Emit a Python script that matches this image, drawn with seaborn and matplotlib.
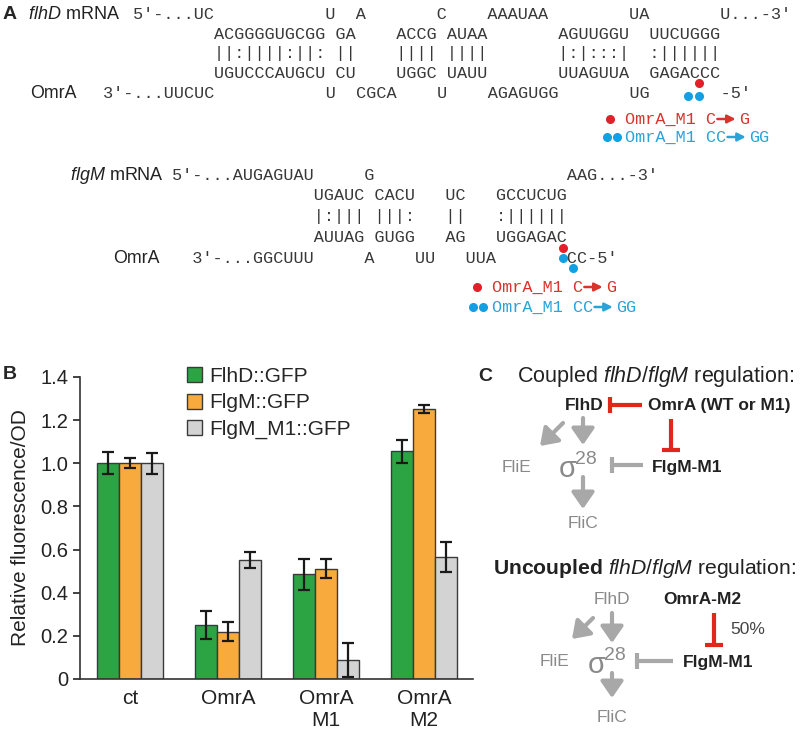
import numpy as np
import pandas as pd
import matplotlib.pyplot as plt
import seaborn as sns
from matplotlib.patches import Patch, ArrowStyle

# --- Panel B data ---
conditions = ['ct', 'OmrA', 'OmrA\nM1', 'OmrA\nM2']
reporters = ['FlhD::GFP', 'FlgM::GFP', 'FlgM_M1::GFP']
flhd_vals = [1.00, 0.25, 0.485, 1.055]
flhd_err = [0.051, 0.063, 0.072, 0.053]
flgm_vals = [1.00, 0.218, 0.51, 1.25]
flgm_err = [0.023, 0.044, 0.044, 0.018]
flgm_m1_vals = [1.00, 0.551, 0.088, 0.565]
flgm_m1_err = [0.048, 0.037, 0.079, 0.07]
bar_colors = ['#2ca444', '#f8aa3c', '#d3d3d3']
y_ticks = [0, 0.2, 0.4, 0.6, 0.8, 1.0, 1.2, 1.4]
y_tick_labels = ['0', '0.2', '0.4', '0.6', '0.8', '1.0', '1.2', '1.4']

# --- Panel A sequences (monospace rows) ---
flhd_rows = [
    "5'-...UC           U  A       C    AAAUAA        UA       U...-3'",
    "        ACGGGGUGCGG GA    ACCG AUAA       AGUUGGU  UUCUGGG",
    "        ||:||||:||: ||    |||| ||||       |:|:::|  :||||||",
    "        UGUCCCAUGCU CU    UGGC UAUU       UUAGUUA  GAGACCC",
    "3'-...UUCUC           U  CGCA    U    AGAGUGG       UG       -5'",
]
flgm_rows = [
    "5'-...AUGAGUAU     G                   AAG...-3'",
    "              UGAUC CACU   UC   GCCUCUG",
    "              |:||| |||:   ||   :||||||",
    "              AUUAG GUGG   AG   UGGAGAC",
    "  3'-...GGCUUU     A    UU   UUA       CC-5'",
]

sns.set_style('ticks')
plt.rcParams['font.family'] = ['Liberation Sans', 'DejaVu Sans']
plt.rcParams['mathtext.fontset'] = 'custom'
plt.rcParams['mathtext.rm'] = 'Liberation Sans'
plt.rcParams['mathtext.it'] = 'Liberation Sans:italic'
plt.rcParams['mathtext.bf'] = 'Liberation Sans:bold'

fig = plt.figure(figsize=(8, 7.35), dpi=100)

# overlay in pixel coordinates for panels A and C
ov = fig.add_axes([0, 0, 1, 1])
ov.set_xlim(0, 800)
ov.set_ylim(735, 0)
ov.axis('off')

MONO = 'Liberation Mono'
CW = 10.15
MONO_FS = CW / 0.6 * 72 / 100
SEQ_COL = '#383838'
RED_T = '#d9342c'
BLUE_T = '#2aa3d8'
RED_D = '#e3202a'
BLUE_D = '#12a0e3'

# ---------------- Panel A ----------------
ov.text(3, 14, 'A', fontsize=14, fontweight='bold', va='center')
ov.text(28, 14, r'$\it{flhD}$ mRNA', fontsize=13, va='center', color='#222')
ov.text(30, 93, 'OmrA', fontsize=12.8, va='center', color='#222')
flhd_y = [14, 34, 53, 73, 93]
for i, (row, y) in enumerate(zip(flhd_rows, flhd_y)):
    x0 = 133 - 3 * CW if i == 4 else 133
    ov.text(x0, y, row, family=MONO, fontsize=MONO_FS, color=SEQ_COL, va='center')

ov.plot([699], [83], 'o', color=RED_D, ms=5.5)
ov.plot([688, 699], [96, 96], 'o', color=BLUE_D, ms=5.5)


def legend_line(xd, y, dots, color, dcolor, pre, post):
    ov.plot(dots, [y] * len(dots), 'o', color=dcolor, ms=5.5)
    ov.text(xd, y, pre, family=MONO, fontsize=MONO_FS, color=color, va='center')
    xs = xd + len(pre) * CW + 1
    ov.annotate('', xy=(xs + 2 * CW - 2, y), xytext=(xs, y),
                arrowprops=dict(arrowstyle='-|>', color=color, lw=1.8,
                                mutation_scale=12, shrinkA=0, shrinkB=0))
    ov.text(xs + 2 * CW + 1, y, post, family=MONO, fontsize=MONO_FS, color=color, va='center')


legend_line(625, 119, [610], RED_T, RED_D, 'OmrA_M1 C', 'G')
legend_line(625, 137, [607, 617], BLUE_T, BLUE_D, 'OmrA_M1 CC', 'GG')

ov.text(70, 175, r'$\it{flgM}$ mRNA', fontsize=13, va='center', color='#222')
ov.text(113, 258, 'OmrA', fontsize=12.8, va='center', color='#222')
flgm_y = [175, 195, 216, 237, 258]
for row, y in zip(flgm_rows, flgm_y):
    ov.text(172, y, row, family=MONO, fontsize=MONO_FS, color=SEQ_COL, va='center')
ov.plot([563], [248], 'o', color=RED_D, ms=5.5)
ov.plot([563, 573], [258, 268], 'o', color=BLUE_D, ms=5.5)
legend_line(492, 287, [477], RED_T, RED_D, 'OmrA_M1 C', 'G')
legend_line(492, 307, [473, 483], BLUE_T, BLUE_D, 'OmrA_M1 CC', 'GG')

# ---------------- Panel B ----------------
ax = fig.add_axes([0.1, 0.0762, 0.491, 0.411])
df = pd.DataFrame({
    'Condition': conditions * 3,
    'Reporter': np.repeat(reporters, len(conditions)),
    'Value': flhd_vals + flgm_vals + flgm_m1_vals,
})
sns.barplot(data=df, x='Condition', y='Value', hue='Reporter', hue_order=reporters,
            palette=bar_colors, width=0.67, errorbar=None, edgecolor='#3a3a3a',
            linewidth=1, saturation=1, legend=False, ax=ax)

for container, errs in zip(ax.containers, [flhd_err, flgm_err, flgm_m1_err]):
    xs = [b.get_x() + b.get_width() / 2 for b in container]
    ys = [b.get_height() for b in container]
    ax.errorbar(xs, ys, yerr=errs, fmt='none', ecolor='#1a1a1a', elinewidth=1.6,
                capsize=4.3, capthick=1.6)

ax.set_xlim(-0.51, 3.5)
ax.set_ylim(0, 1.4)
ax.set_yticks(y_ticks)
ax.set_yticklabels(y_tick_labels)
ax.set_xlabel('')
ax.set_ylabel('Relative fluorescence/OD', fontsize=15, color='#222', labelpad=7)
ax.tick_params(axis='y', labelsize=14.5, length=5, width=1.2, colors='#222')
ax.tick_params(axis='x', labelsize=15, length=0, pad=7, colors='#222')
for s in ['top', 'right']:
    ax.spines[s].set_visible(False)
for s in ['left', 'bottom']:
    ax.spines[s].set_linewidth(1.2)
    ax.spines[s].set_color('#333')

handles = [Patch(facecolor=c, edgecolor='#3a3a3a', linewidth=1) for c in bar_colors]
ax.legend(handles, reporters, loc='upper left', bbox_to_anchor=(0.25, 1.06), frameon=False,
          fontsize=15, handlelength=0.72, handleheight=0.72, handletextpad=0.35,
          labelspacing=0.35, borderaxespad=0)

ov.text(3, 374, 'B', fontsize=14, fontweight='bold', va='center')

# ---------------- Panel C ----------------
GRAY_A = '#a8a8a8'
GRAY_T = '#8a8a8a'
RED_L = '#e1261c'
hs = ArrowStyle('-|>', head_length=0.55, head_width=0.38)


def garrow(x1, y1, x2, y2):
    ov.annotate('', xy=(x2, y2), xytext=(x1, y1),
                arrowprops=dict(arrowstyle=hs, color=GRAY_A, lw=3, mutation_scale=18,
                                shrinkA=0, shrinkB=0))


def tbar(x1, y1, x2, y2, color, half=8, lw=3):
    ov.plot([x1, x2], [y1, y2], color=color, lw=lw, solid_capstyle='butt')
    if x1 == x2:
        ov.plot([x2 - half, x2 + half], [y2, y2], color=color, lw=lw, solid_capstyle='butt')
    else:
        ov.plot([x2, x2], [y2 - half, y2 + half], color=color, lw=lw, solid_capstyle='butt')


def sigma(x, y):
    ov.text(x, y + 3, '\u03c3', fontsize=21, color=GRAY_T, va='center')
    ov.text(x + 16, y - 7, '28', fontsize=14, color=GRAY_T, va='center')


ov.text(478, 376, 'C', fontsize=14, fontweight='bold', va='center')
ov.text(517, 376, r'Coupled $\it{flhD/flgM}$ regulation:', fontsize=15.5, va='center', color='#222')
ov.text(565, 405, 'FlhD', fontsize=12.5, fontweight='bold', va='center', color='#222')
tbar(642, 405, 610, 405, RED_L)
ov.text(648, 405, 'OmrA (WT or M1)', fontsize=12.5, fontweight='bold', va='center', color='#222')
tbar(671, 419, 671, 450, RED_L, half=9)
garrow(563, 423, 540, 446)
garrow(583, 418, 583, 445)
ov.text(502, 467, 'FliE', fontsize=12.5, va='center', color=GRAY_T)
sigma(559, 466)
tbar(643, 465, 612, 465, GRAY_A)
ov.text(652, 467, 'FlgM-M1', fontsize=12.5, fontweight='bold', va='center', color='#222')
garrow(583, 477, 583, 509)
ov.text(583, 523, 'FliC', fontsize=12.5, ha='center', va='center', color=GRAY_T)

ov.text(493, 568, r'$\bf{Uncoupled}$ $\it{flhD/flgM}$ regulation:', fontsize=15.2,
        va='center', color='#222')
ov.text(612, 599, 'FlhD', fontsize=12.5, ha='center', va='center', color=GRAY_T)
ov.text(663, 599, 'OmrA-M2', fontsize=12.5, fontweight='bold', va='center', color='#222')
garrow(593, 618, 572, 639)
garrow(612, 613, 612, 643)
tbar(714, 613, 714, 645, RED_L, half=9)
ov.text(730, 630, '50%', fontsize=12.5, va='center', color='#444')
ov.text(540, 662, 'FliE', fontsize=12.5, va='center', color=GRAY_T)
sigma(588, 662)
tbar(673, 661, 637, 661, GRAY_A)
ov.text(683, 662, 'FlgM-M1', fontsize=12.5, fontweight='bold', va='center', color='#222')
garrow(612, 673, 612, 698)
ov.text(612, 717, 'FliC', fontsize=12.5, ha='center', va='center', color=GRAY_T)

fig.savefig('out.png', dpi=100)
